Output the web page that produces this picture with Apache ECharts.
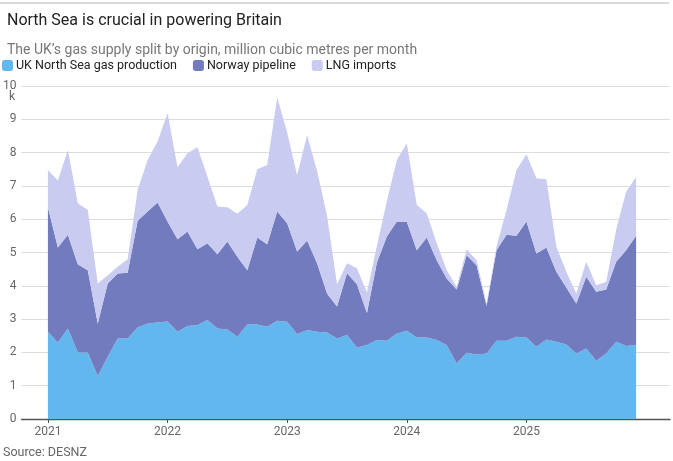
<!DOCTYPE html>
<html>
<head>
<meta charset="utf-8">
<script src="https://cdn.jsdelivr.net/npm/echarts@6/dist/echarts.min.js"></script>
<style>
  html, body { margin: 0; padding: 0; background: #fff; }
  #chart { width: 673px; height: 461px; }
</style>
</head>
<body>
<div id="chart"></div>
<script>
// Monthly, Jan 2021 – Dec 2025 (million cubic metres per month)
const months = [
  '2021-01','2021-02','2021-03','2021-04','2021-05','2021-06','2021-07','2021-08','2021-09','2021-10','2021-11','2021-12',
  '2022-01','2022-02','2022-03','2022-04','2022-05','2022-06','2022-07','2022-08','2022-09','2022-10','2022-11','2022-12',
  '2023-01','2023-02','2023-03','2023-04','2023-05','2023-06','2023-07','2023-08','2023-09','2023-10','2023-11','2023-12',
  '2024-01','2024-02','2024-03','2024-04','2024-05','2024-06','2024-07','2024-08','2024-09','2024-10','2024-11','2024-12',
  '2025-01','2025-02','2025-03','2025-04','2025-05','2025-06','2025-07','2025-08','2025-09','2025-10','2025-11','2025-12'
];
const ukNorthSea = [
  2620,2300,2720,2000,2000,1290,1870,2420,2420,2750,2870,2900,
  2930,2620,2790,2820,2970,2720,2690,2470,2840,2840,2770,2950,
  2920,2550,2670,2620,2600,2420,2520,2150,2220,2370,2350,2570,
  2650,2450,2450,2370,2220,1670,1990,1940,1970,2350,2350,2470,
  2450,2170,2390,2320,2240,1970,2120,1750,1970,2320,2190,2220
];
const norwayPipeline = [
  3740,2850,2810,2650,2470,1580,2200,1950,1970,3200,3360,3600,
  3000,2780,2840,2280,2310,2230,2640,2400,1630,2610,2480,3280,
  2960,2480,2690,2060,1170,960,1860,1900,960,2330,3130,3360,
  3270,2620,3000,2400,2000,2220,2930,2680,1420,2720,3180,3030,
  3480,2800,2760,2100,1710,1500,2150,2070,1920,2400,2880,3280
];
const lngImports = [
  1120,2010,2550,1830,1810,1200,250,200,410,930,1550,1830,
  3260,2160,2350,3060,2000,1430,1030,1290,1960,2050,2380,3430,
  2720,2290,3170,2770,2330,670,300,480,620,500,1070,1850,
  2360,1360,730,510,250,80,180,150,80,110,750,1980,
  2020,2260,2050,760,470,300,450,200,230,960,1760,1760
];
const seriesNames = ['UK North Sea gas production', 'Norway pipeline', 'LNG imports'];
const yearTicks = ['2021', '2022', '2023', '2024', '2025'];

// x position = months elapsed since the first month (uniform monthly spacing)
const firstYear = +months[0].slice(0, 4);
const monthIndex = m => (+m.slice(0, 4) - firstYear) * 12 + (+m.slice(5, 7) - 1);
const tickPositions = yearTicks.map(y => monthIndex(y + '-01'));
// value first, month second: the first numeric dimension is the one ECharts stacks
const toPairs = arr => arr.map((v, i) => [v, monthIndex(months[i])]);

const colors = ['#63b7ef', '#737bbf', '#c9ccf0'];
const FONT = 'Roboto';

const chart = echarts.init(document.getElementById('chart'), null, { renderer: 'canvas' });

const mk = (name, arr, color) => ({
  name: name,
  type: 'line',
  stack: 'total',
  encode: { x: 1, y: 0 },
  data: toPairs(arr),
  symbol: 'none',
  lineStyle: { width: 0 },
  areaStyle: { color: color, opacity: 1 },
  itemStyle: { color: color },
  emphasis: { disabled: true },
  z: 2
});

chart.setOption({
  animation: false,
  textStyle: { fontFamily: FONT },
  title: [
    {
      text: 'North Sea is crucial in powering Britain',
      left: 2, top: 8,
      textStyle: { fontFamily: FONT, fontSize: 16, fontWeight: 'normal', color: '#222' }
    },
    {
      text: 'The UK\u2019s gas supply split by origin, million cubic metres per month',
      left: 2, top: 38,
      textStyle: { fontFamily: FONT, fontSize: 14, fontWeight: 'normal', color: '#777' }
    }
  ],
  legend: {
    data: seriesNames,
    left: 2, top: 59,
    icon: 'roundRect',
    itemWidth: 11, itemHeight: 11,
    itemGap: 16,
    padding: 0,
    textStyle: { fontFamily: FONT, fontSize: 12.5, color: '#222', padding: [0, 0, 0, -2] },
    selectedMode: false
  },
  grid: { left: 19, right: 3, top: 86, bottom: 42, containLabel: false },
  xAxis: {
    type: 'value',
    min: -2.65,
    max: 62.4,
    splitLine: { show: false },
    axisLine: { show: true, onZero: false, lineStyle: { color: '#555', width: 1.3 } },
    axisTick: { show: true, customValues: tickPositions, length: 4, lineStyle: { color: '#555' } },
    axisLabel: {
      customValues: tickPositions,
      formatter: v => String(firstYear + Math.round(v / 12)),
      color: '#666', fontFamily: FONT, fontSize: 12, margin: 7
    }
  },
  yAxis: {
    type: 'value',
    min: 0, max: 10000, interval: 1000,
    axisLine: { show: false },
    axisTick: { show: false },
    splitLine: { lineStyle: { color: '#dcdcdc', width: 1 } },
    axisLabel: {
      formatter: v => String(v / 1000),
      color: '#666', fontFamily: FONT, fontSize: 12, margin: 5
    }
  },
  graphic: [
    { type: 'line', shape: { x1: 0, y1: 3, x2: 669, y2: 3 }, style: { stroke: '#b5b5b5', lineWidth: 1 } },
    { type: 'text', left: 9, top: 91, style: { text: 'k', fill: '#666', font: '12px ' + FONT } },
    { type: 'text', left: 3, top: 446, style: { text: 'Source: DESNZ', fill: '#666', font: '12.5px ' + FONT } }
  ],
  series: [
    mk(seriesNames[0], ukNorthSea, colors[0]),
    mk(seriesNames[1], norwayPipeline, colors[1]),
    mk(seriesNames[2], lngImports, colors[2])
  ]
});
</script>
</body>
</html>
